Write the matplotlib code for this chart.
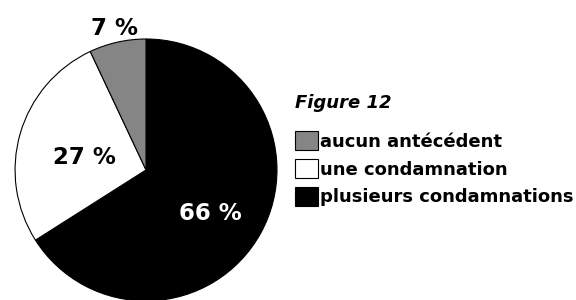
import matplotlib
matplotlib.use("Agg")
import matplotlib.pyplot as plt
from matplotlib.patches import Patch
import numpy as np

plt.rcParams['font.family'] = ['DejaVu Sans']

# data
categories = ['plusieurs condamnations', 'une condamnation', 'aucun antécédent']
values = [66, 27, 7]
pct_labels = ['66 %', '27 %', '7 %']
colors = ['#000000', '#ffffff', '#858585']
label_colors = ['white', 'black', 'black']
# label placement: radius (fraction of pie radius), angle shift from wedge middle
label_radius = [0.59, 0.48, 1.11]
label_shift = [-5.4, 4.8, 0.0]

fig = plt.figure(figsize=(5.76, 3.0), dpi=100)
ax = fig.add_axes([0.026, -0.003, 0.455, 0.873])

wedges, _ = ax.pie(values, colors=colors, startangle=90, counterclock=False,
                   wedgeprops={'edgecolor': 'black', 'linewidth': 0.8})
ax.set_xlim(-1, 1)
ax.set_ylim(-1, 1)
ax.set_aspect('equal')
ax.axis('off')

for w, txt, c, r, s in zip(wedges, pct_labels, label_colors, label_radius, label_shift):
    ang = np.deg2rad((w.theta1 + w.theta2) / 2 + s)
    ax.text(r * np.cos(ang), r * np.sin(ang), txt, ha='center', va='center',
            fontsize=16.5, fontweight='bold', color=c, clip_on=False)

# title of the legend
fig.text(0.513, 0.657, 'Figure 12', ha='left', va='center', fontsize=13,
         fontstyle='italic', fontweight='bold')

# legend, gray / white / black from top
handles = [Patch(facecolor=colors[i], edgecolor='black', linewidth=0.8) for i in [2, 1, 0]]
labels = [categories[i] for i in [2, 1, 0]]
leg = fig.legend(handles, labels, loc='upper left', bbox_to_anchor=(0.512, 0.562),
                 frameon=False, fontsize=13, handlelength=1.27, handleheight=1.22,
                 handletextpad=0.1, labelspacing=0.46, borderpad=0, borderaxespad=0)
for t in leg.get_texts():
    t.set_fontweight('bold')

fig.savefig('out.png', dpi=100)
